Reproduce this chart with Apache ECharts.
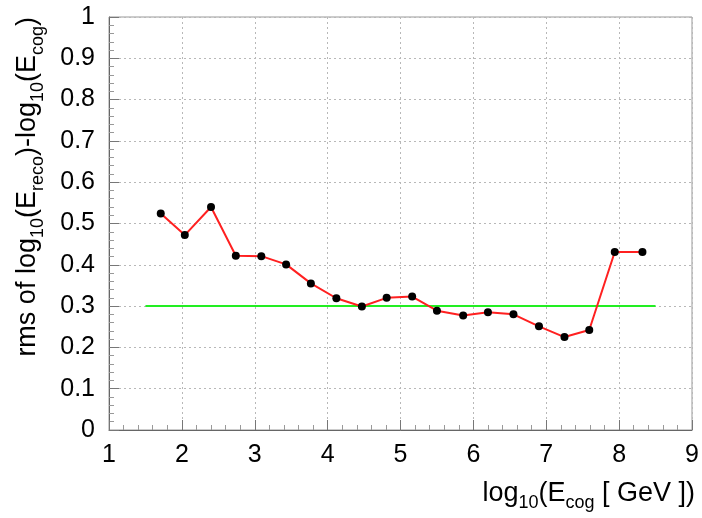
<!DOCTYPE html>
<html>
<head>
<meta charset="utf-8">
<script src="https://cdn.jsdelivr.net/npm/echarts@6/dist/echarts.min.js"></script>
<style>
  html, body { margin: 0; padding: 0; background: #fff; }
  #chart { width: 702px; height: 518px; }
</style>
</head>
<body>
<div id="chart"></div>
<script>
// bin centres, log10(E_cog)
var logE = [1.71, 2.04, 2.40, 2.74, 3.09, 3.43, 3.77, 4.12, 4.47, 4.81,
            5.16, 5.50, 5.86, 6.20, 6.55, 6.90, 7.25, 7.59, 7.94, 8.32];
// rms of log10(E_reco) - log10(E_cog)
var rms = [0.524, 0.472, 0.540, 0.422, 0.421, 0.401, 0.355, 0.319, 0.299, 0.320,
           0.323, 0.289, 0.277, 0.285, 0.280, 0.251, 0.225, 0.242, 0.431, 0.431];
// reference level
var refX = [1.5, 8.5];
var refLevel = 0.3;

var font = 'Liberation Sans, Arial, sans-serif';
var myChart = echarts.init(document.getElementById('chart'));

var option = {
    animation: false,
    backgroundColor: '#fff',
    grid: {
        left: 109, right: 10, top: 17, bottom: 88,
        show: true, borderColor: '#999', borderWidth: 1
    },
    xAxis: {
        type: 'value', min: 1, max: 9, interval: 1,
        axisLine: { lineStyle: { color: '#666' } },
        axisTick: { inside: true, length: 10, lineStyle: { color: '#777' } },
        minorTick: { show: true, splitNumber: 5, length: 5, lineStyle: { color: '#999' } },
        splitLine: { show: true, lineStyle: { color: '#b8b8b8', type: [2, 3] } },
        axisLabel: { color: '#000', fontSize: 25, fontFamily: font, margin: 13 }
    },
    yAxis: {
        type: 'value', min: 0, max: 1, interval: 0.1,
        axisLine: { lineStyle: { color: '#666' } },
        axisTick: { inside: true, length: 10, lineStyle: { color: '#777' } },
        minorTick: { show: true, splitNumber: 5, length: 5, lineStyle: { color: '#999' } },
        splitLine: { show: true, lineStyle: { color: '#b8b8b8', type: [2, 3] } },
        axisLabel: { color: '#000', fontSize: 25, fontFamily: font, margin: 14 }
    },
    graphic: [{
        type: 'text', right: 7, top: 480,
        style: {
            text: 'log{s|10}(E{s|cog} [ GeV ])',
            font: '27px ' + font, fill: '#000',
            rich: { s: { fontSize: 18, fontFamily: font, padding: [20, 0, 0, 0] } }
        }
    }, {
        type: 'text', x: 28, y: 17, rotation: Math.PI / 2,
        style: {
            text: 'rms of log{s|10}(E{s|reco})-log{s|10}(E{s|cog})',
            font: '27px ' + font, fill: '#000', align: 'right', verticalAlign: 'middle',
            rich: { s: { fontSize: 18, fontFamily: font, padding: [20, 0, 0, 0] } }
        }
    }],
    series: [{
        type: 'line',
        data: refX.map(function (x) { return [x, refLevel]; }),
        symbol: 'none',
        lineStyle: { color: '#22ee22', width: 2 },
        z: 2
    }, {
        type: 'line',
        data: logE.map(function (x, i) { return [x, rms[i]]; }),
        symbol: 'circle', symbolSize: 8,
        itemStyle: { color: '#000' },
        lineStyle: { color: '#ff2020', width: 2 },
        z: 3
    }]
};
myChart.setOption(option);
</script>
</body>
</html>
